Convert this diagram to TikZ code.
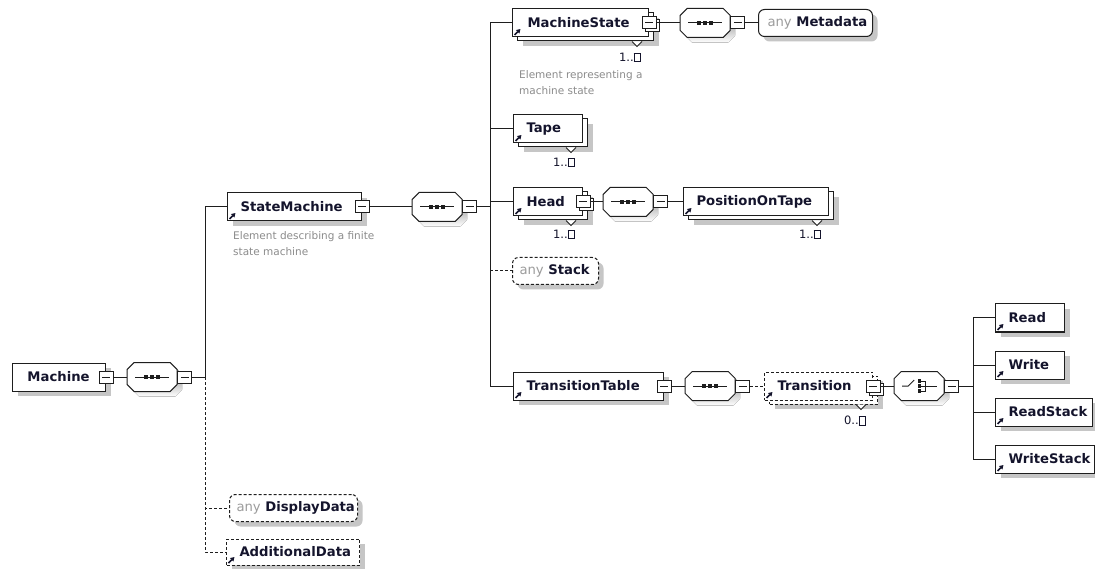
\documentclass[tikz,border=0pt]{standalone}
\usepackage{fontspec}
\setmainfont{DejaVu Sans}
\usetikzlibrary{shadows,arrows.meta}

\definecolor{ink}{HTML}{14142C}
\definecolor{edge}{HTML}{1E1E1E}
\definecolor{note}{HTML}{8C8C8C}
\definecolor{anyc}{HTML}{9C9C9C}
\definecolor{shade}{HTML}{C6C6C6}

% element label: fixed box width (pt) with a left padding (pt)
\newcommand\elbox[3]{\makebox[#1pt][l]{\hspace*{#2pt}#3}}
% wildcard label: grey "any" followed by the bold name
\newcommand\anylabel[1]{{\mdseries\color{anyc}any} #1}
% unbounded upper limit, printed as an empty box
\newcommand\unbounded{{\setlength\fboxsep{0pt}\setlength\fboxrule{0.8pt}\fbox{\rule{0pt}{8pt}\rule{5.5pt}{0pt}}}}

\tikzset{
  x=1pt, y=-1pt,
  conn/.style={draw=edge, line width=1pt},
  opt/.style={dash pattern=on 3pt off 2pt},
  boxline/.style={draw=edge, line width=1pt, fill=white},
  shade1/.style={drop shadow={shadow xshift=5pt, shadow yshift=-5pt, fill=shade, opacity=1}},
  shade2/.style={drop shadow={shadow xshift=10pt, shadow yshift=-9pt, fill=shade, opacity=1},
                 copy shadow={shadow xshift=5pt, shadow yshift=-4pt, draw=edge, fill=white, line width=1pt}},
  shade2opt/.style={drop shadow={shadow xshift=10pt, shadow yshift=-9pt, fill=shade, opacity=1},
                 copy shadow={shadow xshift=5pt, shadow yshift=-4pt, draw=edge, fill=white, line width=1pt, opt}},
  elem/.style={rectangle, boxline, minimum height=28pt, inner xsep=0pt, inner ysep=0pt, anchor=west,
               font=\fontsize{13.2}{15}\selectfont\bfseries, text=ink},
  anyel/.style={elem, rounded corners=6pt, minimum height=27pt},
  tog/.style={rectangle, boxline, minimum width=14pt, minimum height=12pt, inner sep=0pt,
              path picture={\draw[edge, line width=1pt] ([xshift=3pt]path picture bounding box.west) -- ([xshift=-3pt]path picture bounding box.east);}},
  togm/.style={tog, copy shadow={shadow xshift=3pt, shadow yshift=-3pt, draw=edge, fill=white, line width=1pt}},
  compocore/.style={rectangle, minimum width=50pt, minimum height=29pt, inner sep=0pt, anchor=west},
  occ/.style={anchor=east, inner sep=0pt, font=\fontsize{11.5}{13}\selectfont, text=ink},
  note/.style={anchor=north west, inner sep=0pt, align=left, font=\fontsize{10.5}{16}\selectfont, text=note},
}

% octagon outline of a compositor, relative to its centre
\newcommand\octo{++(-25,-7.5) -- ++(7,-7) -- ++(36,0) -- ++(7,7) -- ++(0,15) -- ++(-7,7) -- ++(-36,0) -- ++(-7,-7) -- cycle}

% compositor: name, left x, centre y
\newcommand\compnode[3]{%
  \node[compocore] (#1) at (#2,#3) {};
  \fill[shade] ([shift={(5pt,-5pt)}]#1.center) \octo;
  \draw[boxline] (#1.center) \octo;
  \node[tog, anchor=west] (#1-t) at (#1.east) {};}

% sequence symbol
\newcommand\seqicon[1]{%
  \begin{scope}[shift={(#1.center)}]
    \draw[edge, line width=1pt] (-17,0) -- (17,0);
    \foreach \k in {-6,0,6} \fill[edge] (\k-2,-2) rectangle (\k+2,2);
  \end{scope}}

% choice symbol
\newcommand\choiceicon[1]{%
  \begin{scope}[shift={(#1.center)}, edge, line width=1pt]
    \draw (-17,0) -- (-11,0) -- (-5,-6);
    \foreach \k in {-5,0,5} \fill (-1.5,\k-1.8) rectangle (2,\k+1.8);
    \draw (2,-5) -- (6,-5) -- (6,5) -- (2,5);
    \draw (2,0) -- (18,0);
  \end{scope}}

% reference arrow in the lower left corner of an element
\newcommand\refmark[1]{%
  \draw[ink, line width=1.5pt, -{Triangle[length=4pt,width=4.6pt]}]
    ([shift={(2.5pt,2.5pt)}]#1.south west) -- ++(6pt,6pt);}

% small notch under a repeated element
\newcommand\notch[1]{%
  \fill[white] ([shift={(-17pt,-4pt)}]#1.south east) -- ++(5pt,-5pt) -- ++(5pt,5pt) -- cycle;
  \draw[edge, line width=1pt] ([shift={(-17pt,-4pt)}]#1.south east) -- ++(5pt,-5pt) -- ++(5pt,5pt);}

\begin{document}
\begin{tikzpicture}
\fill[white] (0,0) rectangle (1095,569);
\useasboundingbox (0,0) rectangle (1095,569);

% ---- root
\node[elem, shade1] (machine) at (12,377) {\elbox{93}{15}{Machine}};
\node[tog] (machine-t) at (machine.east) {};
\compnode{seqA}{127}{377}\seqicon{seqA}
\coordinate (forkA) at (205,377);

% ---- StateMachine
\node[elem, shade1] (statemachine) at (227,207) {\elbox{134}{13}{StateMachine}};
\refmark{statemachine}
\node[tog] (statemachine-t) at (statemachine.east) {};
\node[note] (statemachine-doc) at (233,231) {Element describing a finite\\state machine};
\compnode{seqB}{412}{207}\seqicon{seqB}
\coordinate (forkB) at (490,207);

% ---- MachineState
\node[elem, shade2] (machinestate) at (512,23) {\elbox{136}{15}{MachineState}};
\notch{machinestate}
\refmark{machinestate}
\node[togm] (machinestate-t) at (machinestate.east) {};
\node[occ] (machinestate-occ) at ([shift={(-8pt,-20pt)}]machinestate.south east) {1..\unbounded};
\node[note] (machinestate-doc) at (519,70) {Element representing a\\machine state};
\compnode{seqC}{680}{23}\seqicon{seqC}
\node[anyel, shade1] (metadata) at (758,23) {\elbox{114}{9}{\anylabel{Metadata}}};

% ---- Tape
\node[elem, shade2] (tape) at (513,129) {\elbox{69}{13}{Tape}};
\notch{tape}
\refmark{tape}
\node[occ] (tape-occ) at ([shift={(-8pt,-19pt)}]tape.south east) {1..\unbounded};

% ---- Head
\node[elem, shade2] (head) at (513,202) {\elbox{69}{13}{Head}};
\notch{head}
\refmark{head}
\node[togm] (head-t) at (head.east) {};
\node[occ] (head-occ) at ([shift={(-8pt,-18pt)}]head.south east) {1..\unbounded};
\compnode{seqD}{603}{202}\seqicon{seqD}
\node[elem, shade2] (position) at (683,202) {\elbox{145}{13}{PositionOnTape}};
\notch{position}
\refmark{position}
\node[occ] (position-occ) at ([shift={(-8pt,-18pt)}]position.south east) {1..\unbounded};

% ---- any Stack
\node[anyel, opt, shade1] (stack) at (512,271) {\elbox{86}{7}{\anylabel{Stack}}};

% ---- TransitionTable
\node[elem, shade1] (ttable) at (513,386) {\elbox{150}{13}{TransitionTable}};
\refmark{ttable}
\node[tog] (ttable-t) at (ttable.east) {};
\compnode{seqE}{685}{386}\seqicon{seqE}
\node[elem, opt, shade2opt] (transition) at (764,386) {\elbox{108}{13}{Transition}};
\notch{transition}
\refmark{transition}
\node[togm] (transition-t) at (transition.east) {};
\node[occ] (transition-occ) at ([shift={(-7pt,-20pt)}]transition.south east) {0..\unbounded};
\compnode{choice}{894}{386}\choiceicon{choice}
\coordinate (forkC) at (973,386);

% ---- choice members
\node[elem, shade1] (read) at (995,318) {\elbox{69}{13}{Read}};
\refmark{read}
\node[elem, shade1] (write) at (995,365) {\elbox{69}{13}{Write}};
\refmark{write}
\node[elem, shade1] (readstack) at (995,412) {\elbox{97}{13}{ReadStack}};
\refmark{readstack}
\node[elem, shade1] (writestack) at (995,459) {\elbox{99}{13}{WriteStack}};
\refmark{writestack}

% ---- optional root members
\node[anyel, opt, shade1] (displaydata) at (229,508) {\elbox{128}{7}{\anylabel{DisplayData}}};
\node[elem, opt, shade1, minimum height=26pt] (additionaldata) at (226,552) {\elbox{133}{13}{AdditionalData}};
\refmark{additionaldata}

% ---- connectors
\draw[conn] (machine-t.east) -- (seqA.west);
\draw[conn] (seqA-t.east) -- (forkA);
\draw[conn] (forkA) |- (statemachine.west);
\draw[conn, opt] (forkA) |- (displaydata.west);
\draw[conn, opt] (forkA) |- (additionaldata.west);

\draw[conn] (statemachine-t.east) -- (seqB.west);
\draw[conn] (seqB-t.east) -- (forkB);
\draw[conn] (forkB) |- (machinestate.west);
\draw[conn] (forkB) |- (tape.west);
\draw[conn] (forkB) |- (head.west);
\draw[conn] (forkB) |- (ttable.west);
\draw[conn, opt] (forkB |- stack.west) -- (stack.west);

\draw[conn] (machinestate-t.east) -- (seqC.west);
\draw[conn] (seqC-t.east) -- (metadata.west);
\draw[conn] (head-t.east) -- (seqD.west);
\draw[conn] (seqD-t.east) -- (position.west);

\draw[conn] (ttable-t.east) -- (seqE.west);
\draw[conn, opt] (seqE-t.east) -- (transition.west);
\draw[conn] (transition-t.east) -- (choice.west);
\draw[conn] (choice-t.east) -- (forkC);
\draw[conn] (forkC) |- (read.west);
\draw[conn] (forkC) |- (write.west);
\draw[conn] (forkC) |- (readstack.west);
\draw[conn] (forkC) |- (writestack.west);
\end{tikzpicture}
\end{document}
